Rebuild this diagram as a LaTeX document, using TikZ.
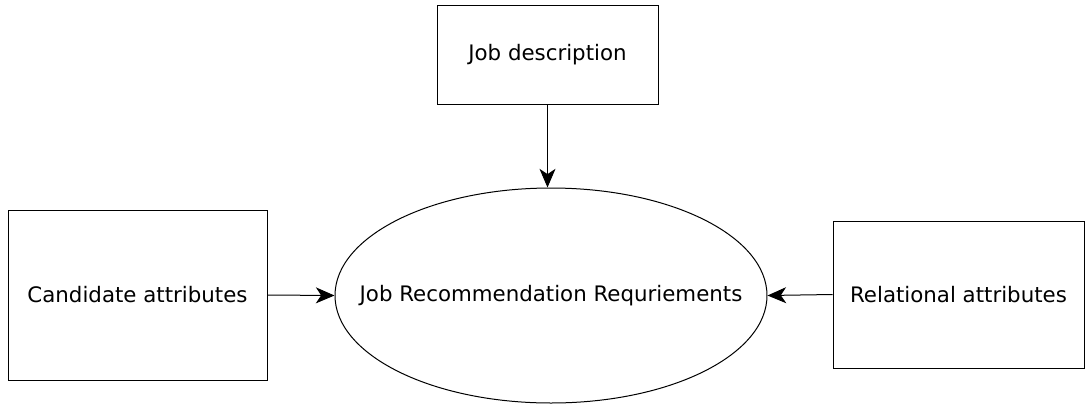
\documentclass[tikz,border=0pt]{standalone}
\usepackage{fontspec}
\setmainfont{DejaVu Sans}
\usetikzlibrary{shapes.geometric,arrows.meta}

\tikzset{
    boxfont/.style={font=\fontsize{16}{19}\selectfont},
    attrbox/.style={draw, line width=.75pt, inner sep=0pt, boxfont},
    flow/.style={-{Stealth[length=14pt,width=12pt,inset=4pt]}, line width=.75pt}
}

\begin{document}
\begin{tikzpicture}[x=.75pt,y=-.75pt]
        \useasboundingbox (0,0) rectangle (1086,408);

        \node[attrbox, minimum width=221*.75pt, minimum height=99*.75pt] (job) at (547.5,54.5) {Job description};
        \node[attrbox, minimum width=259*.75pt, minimum height=170*.75pt] (cand) at (137.5,295) {Candidate attributes};
        \node[attrbox, minimum width=251*.75pt, minimum height=147*.75pt] (rel) at (958.5,294.5) {Relational attributes};
        % text as a label, so the ellipse keeps its size
        \node[attrbox, ellipse, minimum width=432*.75pt, minimum height=215*.75pt,
            label={[boxfont]center:Job Recommendation Requriements}] (req) at (551,295.5) {};

        \draw[flow] (job.south) -- (job.south |- req.north);
        \draw[flow] (cand.east) -- (req.west);
        \draw[flow] (rel.west) -- (req.east);

    \end{tikzpicture}
\end{document}
